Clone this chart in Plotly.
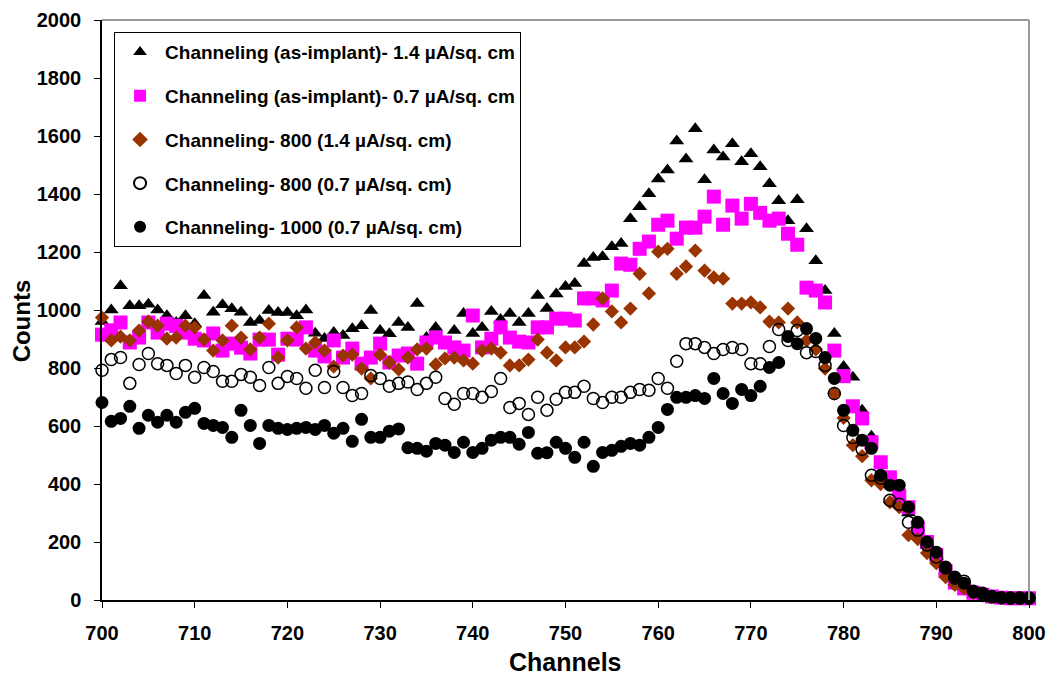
import plotly.graph_objects as go

channels = list(range(700, 801))

tri_asimp_14 = [960, 1000, 1084, 1015, 1015, 1020, 1000, 980, 957, 980,
                953, 1050, 992, 1018, 1004, 992, 957, 964, 998, 991,
                991, 980, 1000, 920, 902, 922, 912, 935, 946, 998,
                929, 918, 957, 940, 1022, 905, 940, 880, 929, 988,
                919, 940, 995, 967, 988, 957, 988, 1050, 1005, 1055,
                1081, 1091, 1160, 1181, 1184, 1218, 1229, 1315, 1356, 1401,
                1452, 1483, 1583, 1521, 1625, 1449, 1552, 1528, 1573, 1511,
                1539, 1494, 1435, 1377, 1308, 1380, 1280, 1170, 1067, 919,
                805, 768, 654, 565, 470, 420, 360, 300, 250, 200,
                150, 100, 65, 45, 28, 18, 12, 8, 6, 6, 6]

sq_asimp_07 = [915, 930, 957, 888, 905, 957, 922, 953, 945, 922,
               901, 895, 919, 860, 884, 870, 850, 898, 898, 846,
               901, 898, 940, 860, 840, 895, 836, 867, 815, 836,
               884, 819, 843, 850, 815, 888, 905, 888, 871, 860,
               981, 871, 901, 940, 905, 891, 888, 940, 940, 970,
               970, 964, 1040, 1040, 1033, 1067, 1160, 1156, 1211, 1236,
               1294, 1308, 1246, 1284, 1284, 1322, 1391, 1294, 1360, 1315,
               1366, 1335, 1308, 1315, 1263, 1225, 1077, 1067, 1026, 860,
               772, 668, 626, 544, 475, 423, 360, 320, 248, 200,
               155, 100, 60, 40, 25, 18, 12, 8, 6, 6, 6]

dia_800_14 = [974, 895, 908, 895, 929, 960, 946, 901, 905, 946,
              940, 898, 860, 895, 946, 905, 864, 905, 953, 836,
              895, 940, 867, 888, 860, 805, 843, 846, 798, 764,
              846, 819, 795, 836, 864, 867, 812, 833, 836, 826,
              815, 860, 867, 853, 809, 809, 829, 898, 853, 826,
              871, 871, 891, 950, 1040, 995, 957, 1005, 1125, 1057,
              1201, 1211, 1125, 1150, 1205, 1136, 1112, 1108, 1022, 1022,
              1026, 1009, 960, 957, 1005, 957, 895, 864, 798, 712,
              628, 534, 496, 413, 400, 337, 320, 224, 210, 162,
              127, 79, 52, 40, 25, 15, 10, 8, 6, 6, 6]

open_800_07 = [792, 829, 836, 747, 812, 850, 815, 809, 781, 809,
               768, 802, 788, 754, 754, 778, 768, 740, 802, 747,
               771, 764, 730, 792, 733, 788, 733, 705, 712, 774,
               764, 737, 747, 752, 726, 747, 768, 695, 675, 712,
               712, 699, 719, 764, 664, 678, 640, 699, 654, 692,
               716, 716, 737, 695, 681, 699, 699, 716, 726, 723,
               764, 730, 823, 884, 884, 871, 850, 864, 871, 864,
               815, 815, 874, 933, 895, 929, 853, 857, 809, 712,
               602, 560, 520, 430, 420, 344, 330, 268, 241, 190,
               148, 110, 75, 65, 30, 20, 12, 8, 6, 6, 6]

fill_1000_07 = [681, 616, 626, 668, 592, 637, 613, 637, 613, 647,
                661, 609, 602, 595, 561, 654, 602, 540, 602, 592,
                588, 592, 595, 588, 602, 575, 592, 547, 623, 561,
                561, 582, 590, 525, 523, 513, 540, 534, 509, 544,
                509, 523, 551, 561, 561, 537, 578, 506, 508, 544,
                523, 492, 544, 461, 509, 516, 530, 540, 534, 561,
                595, 657, 699, 699, 705, 695, 764, 712, 678, 726,
                705, 737, 802, 819, 909, 884, 936, 902, 836, 764,
                654, 585, 551, 523, 430, 396, 396, 320, 268, 200,
                165, 114, 79, 58, 28, 24, 10, 8, 8, 8, 8]

names = ["Channeling (as-implant)- 1.4 µA/sq. cm",
         "Channeling (as-implant)- 0.7 µA/sq. cm",
         "Channeling- 800 (1.4 µA/sq. cm)",
         "Channeling- 800 (0.7 µA/sq. cm)",
         "Channeling- 1000 (0.7 µA/sq. cm)"]

x_title = "Channels"
y_title = "Counts"

FONT = "Liberation Sans, Arial, sans-serif"

styles = [
    dict(symbol="triangle-up", size=13, color="black", line=dict(width=0)),
    dict(symbol="square", size=14, color="#FF00FF", line=dict(width=0)),
    dict(symbol="diamond", size=11, color="#993300", line=dict(width=0)),
    dict(symbol="circle-open", size=12, color="black", line=dict(width=1.5, color="black")),
    dict(symbol="circle", size=13, color="black", line=dict(width=0)),
]
series = [tri_asimp_14, sq_asimp_07, dia_800_14, open_800_07, fill_1000_07]

fig = go.Figure()
for i, (nm, ys, st) in enumerate(zip(names, series, styles)):
    fig.add_trace(go.Scatter(x=channels, y=ys, mode="markers", name=nm,
                             marker=st, cliponaxis=False, legendgroup=f"g{i}"))

fig.update_layout(
    width=1055, height=677,
    margin=dict(l=102, r=26, t=20, b=77),
    paper_bgcolor="white", plot_bgcolor="white",
    font=dict(family=FONT, color="black"),
    showlegend=True,
    legend=dict(x=0.013, y=0.979, xanchor="left", yanchor="top",
                bgcolor="white", bordercolor="black", borderwidth=1,
                font=dict(family=FONT, size=19, weight="bold", color="black"),
                tracegroupgap=16, traceorder="grouped", itemsizing="constant",
                itemwidth=40),
    xaxis=dict(range=[700, 800], dtick=10, tick0=700, showgrid=False, zeroline=False,
               showline=True, linecolor="black", linewidth=1.5, automargin=False,
               ticks="outside", ticklen=6, tickcolor="black", ticklabelstandoff=8,
               tickfont=dict(family=FONT, size=20, weight="bold")),
    yaxis=dict(range=[0, 2000], dtick=200, showgrid=False, zeroline=False,
               showline=True, linecolor="black", linewidth=1.5, automargin=False,
               ticks="outside", ticklen=6, tickcolor="black", ticklabelstandoff=9,
               tickfont=dict(family=FONT, size=20, weight="bold")),
    annotations=[
        dict(text=x_title, xref="paper", yref="paper", x=0.5005, y=-0.107,
             xanchor="center", yanchor="middle", showarrow=False,
             font=dict(family=FONT, size=25, weight="bold", color="black")),
        dict(text=y_title, xref="paper", yref="paper", x=-0.087, y=0.481,
             xanchor="center", yanchor="middle", showarrow=False, textangle=-90,
             font=dict(family=FONT, size=24, weight="bold", color="black")),
    ],
    shapes=[
        dict(type="line", xref="paper", yref="paper", x0=0, x1=1, y0=1, y1=1,
             line=dict(color="#999999", width=2)),
        dict(type="line", xref="paper", yref="paper", x0=1, x1=1, y0=0, y1=1,
             line=dict(color="#999999", width=2)),
    ],
)

fig.write_html("out.html")
